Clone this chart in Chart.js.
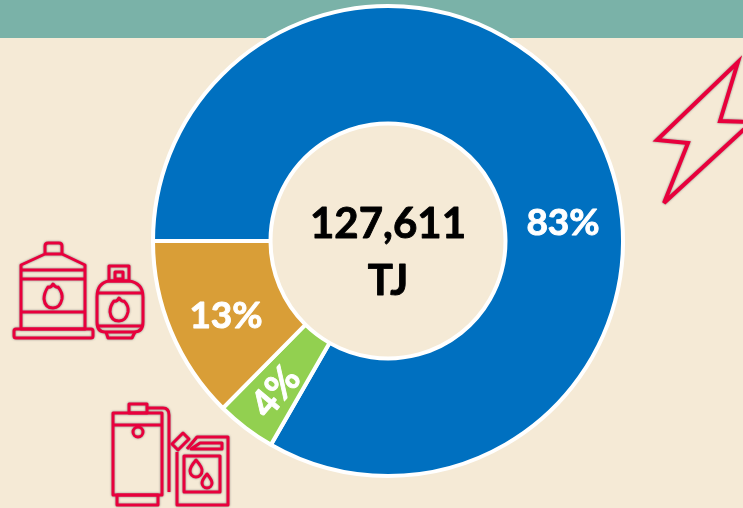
<!DOCTYPE html>
<html>
<head>
<meta charset="utf-8">
<title>Energy use</title>
<script src="https://cdn.jsdelivr.net/npm/chart.js@4"></script>
<style>
  html, body { margin: 0; padding: 0; background: #f5ead6; overflow: hidden; }
  #wrap { position: relative; width: 743px; height: 508px; }
  #band { position: absolute; left: 0; top: 0; width: 743px; height: 38px; background: #7ab2a8; }
  #pmf-chart { position: absolute; left: 0; top: 0; }
  #icons { position: absolute; left: 0; top: 0; filter: drop-shadow(0 0 1px rgba(110, 110, 110, 0.8)); }
  #icons * { fill: none; stroke: #e8003c; stroke-width: 3; stroke-linejoin: round; }
  #icons .bolt { stroke-width: 4; stroke-linejoin: miter; }
</style>
</head>
<body>
<div id="wrap">
  <div id="band"></div>
  <canvas id="pmf-chart" width="743" height="508"></canvas>
  <svg id="icons" width="743" height="508" viewBox="0 0 743 508">
    <!-- electricity -->
    <path class="bolt" d="M738 62 L720 121 L752 122 L664 203 L688 143 L657 140 Z"/>
    <!-- big gas tank -->
    <path d="M45 254 V246 Q45 243 48 243 H59 Q62 243 62 246 V254 M45 254 H62 L85 265 V329 H21 V265 Z"/>
    <path d="M21 270 H85 M21 279 H85 M21 312 H85"/>
    <rect x="14" y="329" width="79" height="9" rx="2"/>
    <path d="M53 284 Q56 288 58 287 Q63 293 62 299 Q60 308 53 308 Q45 308 44 299 Q44 293 48 287 Q51 288 53 284 Z"/>
    <!-- small gas bottle -->
    <rect x="109" y="266" width="20" height="15"/>
    <rect x="115" y="272" width="8" height="7"/>
    <path d="M109 281 H129 Q143 283 143 297 V322 Q143 332 134 332 H105 Q97 332 97 322 V297 Q97 283 109 281 Z"/>
    <path d="M97 293 H143 M97 326 H143"/>
    <path d="M106 332 L108 338 H132 L135 332"/>
    <path d="M119 298 Q122 302 124 301 Q129 306 128 312 Q126 321 119 321 Q111 321 110 312 Q110 306 114 301 Q117 302 119 298 Z"/>
    <!-- boiler -->
    <rect x="113" y="413" width="49" height="82"/>
    <path d="M113 425 H162"/>
    <rect x="129" y="404" width="18" height="9"/>
    <circle cx="138" cy="432" r="5"/>
    <rect x="117" y="495" width="41" height="10"/>
    <path d="M147 408 H163 Q169 408 169 415 V492"/>
    <!-- jerrycan -->
    <path d="M187 449 L197 437 H228 V505 H177 V452"/>
    <path d="M172 444 L183 433 L189 439 L178 450 Z"/>
    <path d="M191 449 L200 443 H222 V449 Z"/>
    <rect x="184" y="456" width="36" height="36"/>
    <path d="M196 460 Q203 468 202 471 A6 6 0 0 1 190 471 Q190 467 196 460 Z"/>
    <path d="M207 474 Q212 480 212 483 A5 5 0 0 1 202 483 Q202 480 207 474 Z"/>
  </svg>
</div>
<script>
const categories = ['Electricity', 'Oil products', 'Gas'];
const shares = [83.3, 4.1, 12.6];
const sliceColors = ['#0070c0', '#92d050', '#d99e37'];
const totalLines = ['127,611', 'TJ'];

// percent labels sit where the original has them, not on the arc centres
const labelSpots = [
  { dx: 175, dy: -18, size: 37, rotate: 0 },
  { dx: -112, dy: 151, size: 38, rotate: -50 },
  { dx: -162, dy: 75, size: 37, rotate: 0 },
];

const doughnutLabels = {
  id: 'doughnutLabels',
  afterDatasetsDraw(chart) {
    const { ctx } = chart;
    const arc = chart.getDatasetMeta(0).data[0];
    const cx = arc.x;
    const cy = arc.y;

    ctx.save();
    ctx.textAlign = 'center';
    ctx.textBaseline = 'middle';
    ctx.lineWidth = 0.9;
    ctx.lineJoin = 'round';

    // Lato bold runs a little thin next to the original, so stroke it as well
    ctx.fillStyle = '#000000';
    ctx.strokeStyle = '#000000';
    ctx.font = 'bold 42px Lato';
    ctx.fillText(totalLines[0], cx, cy - 17);
    ctx.strokeText(totalLines[0], cx, cy - 17);
    ctx.fillText(totalLines[1], cx, cy + 40);
    ctx.strokeText(totalLines[1], cx, cy + 40);

    ctx.fillStyle = '#ffffff';
    ctx.strokeStyle = '#ffffff';
    shares.forEach((share, i) => {
      const spot = labelSpots[i];
      const text = Math.round(share) + '%';
      ctx.save();
      ctx.translate(cx + spot.dx, cy + spot.dy);
      ctx.rotate((spot.rotate * Math.PI) / 180);
      ctx.font = 'bold ' + spot.size + 'px Lato';
      ctx.fillText(text, 0, 0);
      ctx.strokeText(text, 0, 0);
      ctx.restore();
    });
    ctx.restore();
  },
};

new Chart(document.getElementById('pmf-chart'), {
  type: 'doughnut',
  data: {
    labels: categories,
    datasets: [
      {
        data: shares,
        backgroundColor: sliceColors,
        borderColor: '#ffffff',
        borderWidth: 4,
      },
    ],
  },
  options: {
    responsive: false,
    animation: false,
    rotation: -90,
    radius: 235,
    cutout: '50%',
    layout: {
      padding: { left: 33, bottom: 26 },
    },
    plugins: {
      legend: { display: false },
      tooltip: { enabled: false },
    },
  },
  plugins: [doughnutLabels],
});
</script>
</body>
</html>
